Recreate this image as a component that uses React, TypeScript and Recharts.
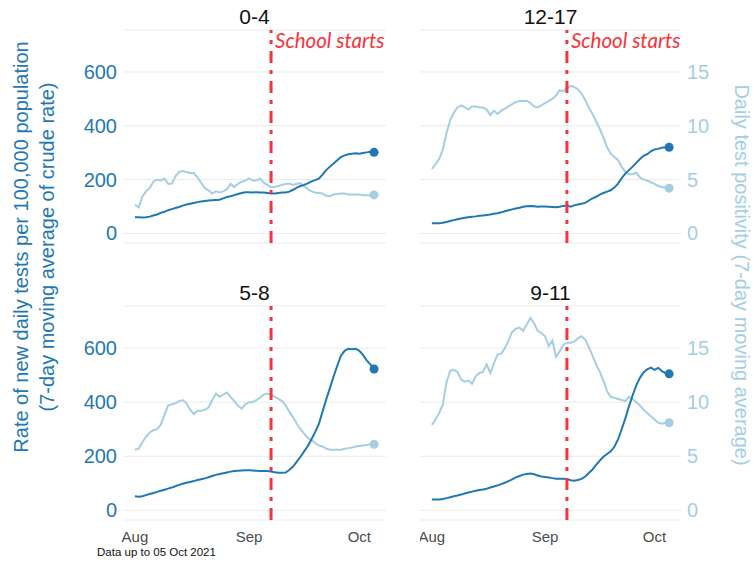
import React from 'react'
import { LineChart, Line, XAxis, YAxis, CartesianGrid, ReferenceLine, ReferenceDot } from 'recharts'

// day index 0 = 01 Aug 2021, last = 05 Oct 2021
const monthTicks = [0, 31, 61]
const monthLabels = ['Aug', 'Sep', 'Oct']
const rateTicks = [0, 200, 400, 600]
const posTicks = [0, 5, 10, 15]
const schoolStartDay = 37

const rate04 = [60, 60, 59, 60, 62, 66, 70, 76, 80, 86, 90, 94, 98, 103, 107, 110, 113, 116, 118, 120, 122, 123, 124, 125, 130, 135, 138, 142, 146, 150, 153, 153, 152, 153, 152, 152, 150, 148, 148, 150, 152, 152, 155, 162, 170, 176, 180, 186, 193, 198, 203, 218, 235, 248, 260, 272, 283, 290, 294, 296, 298, 296, 299, 301, 303, 301]
const pos04 = [2.65, 2.4, 3.4, 3.9, 4.2, 4.8, 5.0, 4.9, 5.1, 4.6, 4.6, 5.3, 5.7, 5.8, 5.7, 5.6, 5.6, 5.2, 4.7, 4.2, 4.0, 3.7, 3.9, 3.8, 3.9, 4.1, 4.6, 4.3, 4.6, 4.8, 4.9, 5.1, 4.9, 4.9, 5.1, 4.7, 4.5, 4.3, 4.3, 4.4, 4.5, 4.6, 4.6, 4.5, 4.6, 4.65, 4.4, 4.1, 3.9, 3.8, 3.75, 3.7, 3.5, 3.45, 3.6, 3.65, 3.7, 3.7, 3.6, 3.6, 3.6, 3.6, 3.55, 3.55, 3.55, 3.57]

const rate1217 = [37, 37, 37, 39, 42, 46, 49, 52, 55, 58, 60, 62, 63, 65, 66, 68, 70, 73, 75, 78, 82, 86, 89, 92, 95, 99, 101, 102, 101, 99, 100, 100, 99, 98, 97, 99, 102, 103, 99, 104, 107, 110, 113, 122, 130, 136, 144, 150, 155, 160, 170, 185, 205, 222, 235, 248, 262, 276, 288, 294, 305, 312, 314, 318, 320, 320]
const pos1217 = [6.0, 6.4, 6.9, 7.8, 9.3, 10.5, 11.2, 11.7, 11.9, 11.7, 11.5, 11.8, 11.8, 11.7, 11.7, 11.5, 11.0, 11.4, 11.1, 11.4, 11.6, 11.8, 12.0, 12.2, 12.3, 12.3, 12.3, 12.1, 11.8, 11.7, 11.9, 12.1, 12.3, 12.5, 12.8, 13.3, 13.2, 13.5, 13.7, 13.6, 13.4, 13.0, 12.4, 11.7, 11.1, 10.4, 9.7, 8.9, 8.0, 7.4, 7.1, 6.8, 6.2, 5.7, 5.5, 5.5, 5.65, 5.2, 5.0, 4.9, 4.75, 4.6, 4.4, 4.3, 4.25, 4.2]

const rate58 = [52, 50, 52, 56, 60, 64, 68, 72, 76, 80, 84, 89, 94, 98, 102, 105, 108, 112, 115, 118, 122, 127, 131, 134, 137, 140, 143, 145, 146, 147, 148, 148, 147, 146, 145, 145, 145, 143, 141, 139, 139, 140, 150, 162, 180, 198, 218, 238, 263, 290, 320, 365, 410, 452, 495, 535, 572, 590, 598, 596, 598, 590, 575, 555, 540, 523]
const pos58 = [5.6, 5.7, 6.3, 6.8, 7.2, 7.4, 7.5, 7.9, 8.8, 9.7, 9.8, 9.9, 10.1, 10.2, 9.9, 9.3, 8.9, 9.2, 9.2, 9.3, 9.5, 10.2, 10.8, 10.5, 10.7, 10.9, 10.5, 10.1, 9.7, 9.4, 9.8, 10.0, 10.0, 10.2, 10.4, 10.7, 10.8, 10.7, 10.5, 10.3, 10.1, 9.7, 9.1, 8.6, 8.0, 7.5, 7.1, 6.7, 6.5, 6.2, 6.0, 5.9, 5.7, 5.6, 5.6, 5.6, 5.6, 5.7, 5.75, 5.8, 5.9, 5.95, 6.0, 6.05, 6.1, 6.1]

const rate911 = [40, 40, 40, 42, 45, 48, 52, 55, 58, 62, 66, 69, 72, 75, 77, 80, 84, 88, 92, 97, 102, 108, 114, 122, 127, 132, 134, 136, 133, 129, 125, 123, 121, 119, 117, 117, 117, 116, 111, 109, 112, 116, 125, 138, 151, 168, 184, 198, 208, 218, 235, 262, 300, 340, 385, 425, 462, 490, 510, 522, 528, 520, 527, 515, 508, 505]
const pos911 = [7.9, 8.4, 9.0, 9.8, 11.8, 12.9, 13.0, 12.8, 12.1, 11.9, 12.0, 11.7, 12.4, 12.7, 12.8, 13.5, 12.7, 13.6, 14.4, 14.5, 15.0, 15.7, 16.5, 16.8, 16.9, 16.6, 17.2, 17.8, 17.3, 16.6, 16.4, 16.1, 15.2, 15.7, 14.2, 14.7, 15.3, 15.5, 15.5, 15.6, 15.9, 16.1, 15.8, 15.1, 14.3, 13.5, 12.8, 12.0, 11.0, 10.5, 10.4, 10.3, 10.2, 10.1, 10.5, 10.3, 10.0, 9.7, 9.3, 9.0, 8.7, 8.4, 8.1, 8.0, 8.1, 8.1]

const DARK = '#1F78B4'
const LIGHT = '#A6CEE3'
const RED = '#F8333C'
const GRID = '#EBEBEB'
const SANS = '"Liberation Sans", Arial, sans-serif'
const TOP_PAD = 30

const schoolLabel = (props: any) => {
  const vb = props.viewBox || {}
  return (
    <text x={vb.x + 4} y={vb.y + 18} fill={RED} fontSize={20.5} fontStyle="italic" fontFamily='Lato, "Open Sans", sans-serif'>
      School starts
    </text>
  )
}

function Panel({ title, rate, pos, side, row }: {
  title: string
  rate: number[]
  pos: number[]
  side: 'left' | 'right'
  row: 'top' | 'bottom'
}) {
  const data = rate.map((r, i) => ({ day: i, rate: r, pos: pos[i] }))
  const last = data.length - 1
  const plotW = side === 'left' ? 263 : 261
  const plotH = row === 'top' ? 213 : 214
  const axisH = row === 'bottom' ? 30 : 0
  const left = side === 'left' ? 63 : 420
  const plotTop = row === 'top' ? 30 : 306
  const width = plotW + 60
  const height = TOP_PAD + plotH + axisH + 12
  const titleX = side === 'left' ? 60 + plotW / 2 : plotW / 2

  return (
    <div style={{ position: 'absolute', left, top: plotTop - TOP_PAD, width, height }}>
      <div style={{ position: 'absolute', left: titleX - 50, width: 100, top: TOP_PAD - 25, textAlign: 'center', fontFamily: SANS, fontSize: 21, color: '#111', lineHeight: '24px' }}>{title}</div>
      <LineChart width={width} height={height} data={data} margin={{ top: TOP_PAD, right: 0, bottom: 12, left: 0 }}>
        <CartesianGrid yAxisId="rate" vertical={false} stroke={GRID} strokeWidth={1} />
        <XAxis
          dataKey="day" type="number" domain={[-3.25, 68.25]} allowDataOverflow ticks={monthTicks} interval={0}
          tickFormatter={(v) => monthLabels[monthTicks.indexOf(v)]}
          hide={row === 'top'} height={axisH} axisLine={false} tickLine={false} tickMargin={5}
          tick={{ fontSize: 15, fontFamily: SANS, fill: '#4D4D4D' }}
        />
        <YAxis
          yAxisId="rate" orientation="left" domain={[-36, 756]} allowDataOverflow ticks={rateTicks} interval={0}
          hide={side === 'right'} width={60} axisLine={false} tickLine={false} tickSize={4}
          tick={{ fontSize: 20, fontFamily: SANS, fill: DARK }}
        />
        <YAxis
          yAxisId="pos" orientation="right" domain={[-0.9, 18.9]} allowDataOverflow ticks={posTicks} interval={0}
          hide={side === 'left'} width={60} axisLine={false} tickLine={false} tickSize={4}
          tick={{ fontSize: 20, fontFamily: SANS, fill: LIGHT, textAnchor: 'start' }}
        />
        <Line yAxisId="pos" dataKey="pos" stroke={LIGHT} strokeWidth={2} dot={false} isAnimationActive={false} />
        <Line yAxisId="rate" dataKey="rate" stroke={DARK} strokeWidth={2} dot={false} isAnimationActive={false} />
        <ReferenceDot yAxisId="pos" x={last} y={pos[last]} r={4.5} fill={LIGHT} stroke="none" />
        <ReferenceDot yAxisId="rate" x={last} y={rate[last]} r={4.5} fill={DARK} stroke="none" />
        <ReferenceLine
          yAxisId="rate" x={schoolStartDay} stroke={RED} strokeWidth={3} strokeDasharray="12 7 4 7"
          label={row === 'top' ? schoolLabel : undefined}
        />
      </LineChart>
    </div>
  )
}

export default function App() {
  return (
    <div style={{ position: 'absolute', left: 0, top: 0, width: 754, height: 582, background: '#fff', overflow: 'hidden' }}>
      <Panel title="0-4" rate={rate04} pos={pos04} side="left" row="top" />
      <Panel title="12-17" rate={rate1217} pos={pos1217} side="right" row="top" />
      <Panel title="5-8" rate={rate58} pos={pos58} side="left" row="bottom" />
      <Panel title="9-11" rate={rate911} pos={pos911} side="right" row="bottom" />
      <svg width={754} height={582} style={{ position: 'absolute', left: 0, top: 0, pointerEvents: 'none' }}>
        <text transform="translate(28,247) rotate(-90)" textAnchor="middle" fontFamily={SANS} fontSize={20} fill={DARK}>
          Rate of new daily tests per 100,000 population
        </text>
        <text transform="translate(54,247) rotate(-90)" textAnchor="middle" fontFamily={SANS} fontSize={20} fill={DARK}>
          (7-day moving average of crude rate)
        </text>
        <text transform="translate(735,275) rotate(90)" textAnchor="middle" fontFamily={SANS} fontSize={20} fill={LIGHT}>
          Daily test positivity (7-day moving average)
        </text>
        <text x={97} y={556} fontFamily={SANS} fontSize={11.5} fill="#111">Data up to 05 Oct 2021</text>
      </svg>
    </div>
  )
}
